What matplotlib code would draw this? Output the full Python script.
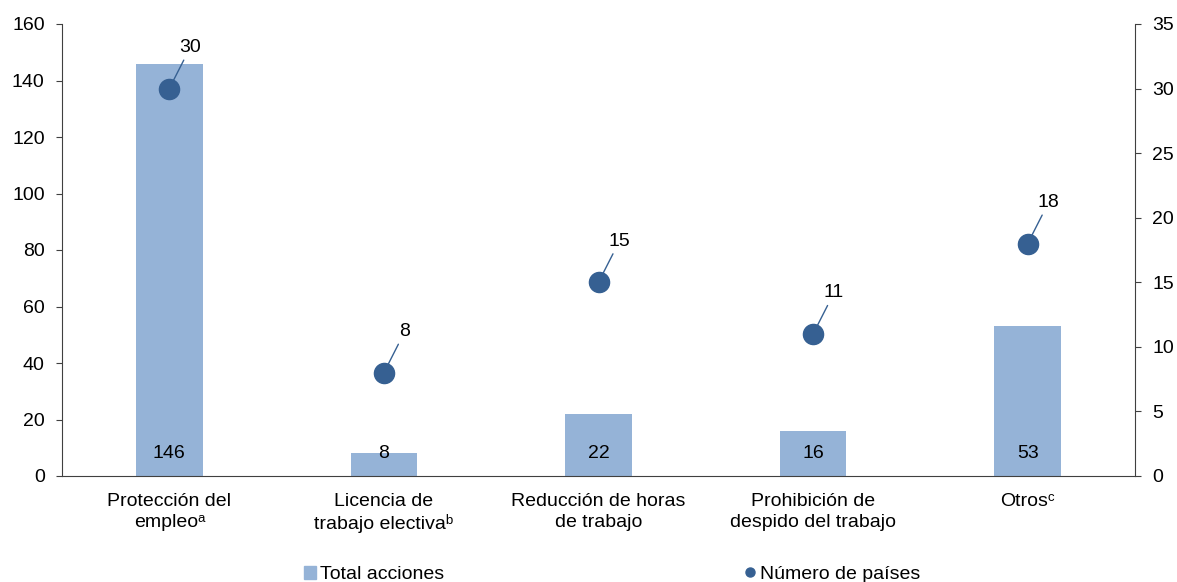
import numpy as np
import matplotlib.pyplot as plt
from matplotlib.lines import Line2D
from matplotlib.patches import Patch

plt.rcParams['font.family'] = ['Liberation Sans', 'DejaVu Sans']

categorias = ['Protección del\nempleoᵃ',
              'Licencia de\ntrabajo electivaᵇ',
              'Reducción de horas\nde trabajo',
              'Prohibición de\ndespido del trabajo',
              'Otrosᶜ']
total_acciones = [146, 8, 22, 16, 53]
num_paises = [30, 8, 15, 11, 18]

bar_color = '#95b3d7'
dot_color = '#366092'
spine_color = '#404040'
fs = 14

fig = plt.figure(figsize=(11.77, 5.82), dpi=100)
ax = fig.add_axes([62 / 1177, 1 - 476 / 582, (1135 - 62) / 1177, (476 - 24) / 582])
ax2 = ax.twinx()

x = np.arange(len(categorias))
ax.bar(x, total_acciones, width=0.31, color=bar_color, zorder=2)
for xi, v in zip(x, total_acciones):
    ax.annotate(str(v), xy=(xi, 0), xytext=(0, 16.5), textcoords='offset points',
                ha='center', va='center', fontsize=fs, color='black')

ax2.plot(x, num_paises, 'o', color=dot_color, markersize=14.5, zorder=4)
for xi, v in zip(x, num_paises):
    ax2.annotate(str(v), xy=(xi, v), xytext=(15, 29.5), textcoords='offset points',
                 ha='center', va='center', fontsize=fs, zorder=3,
                 arrowprops=dict(arrowstyle='-', color=dot_color, lw=1.0,
                                 shrinkA=1, shrinkB=0))

ax.set_xlim(-0.5, 4.5)
ax.set_ylim(0, 160)
ax.set_yticks(range(0, 161, 20))
ax2.set_ylim(0, 35)
ax2.set_yticks(range(0, 36, 5))

ax.set_xticks(x)
ax.set_xticklabels(categorias, fontsize=fs, linespacing=1.3)
ax.tick_params(axis='x', length=0, pad=12)
ax.tick_params(axis='y', labelsize=fs, length=4.5, pad=8, color=spine_color, direction='out')
ax2.tick_params(axis='y', labelsize=fs, length=4.5, pad=8, color=spine_color, direction='out')

for a in (ax, ax2):
    a.spines['top'].set_visible(False)
    for s in ('left', 'right', 'bottom'):
        a.spines[s].set_color(spine_color)
ax2.spines['left'].set_visible(False)
ax2.spines['bottom'].set_visible(False)
ax.spines['right'].set_visible(False)

handles = [Patch(color=bar_color, label='Total acciones'),
           Line2D([], [], marker='o', linestyle='none', color=dot_color,
                  markersize=6.5, label='Número de países')]
fig.legend(handles=handles, loc='lower center', ncol=2, frameon=False,
           fontsize=fs, bbox_to_anchor=(0.52, -0.032), columnspacing=15.4,
           handlelength=0.65, handleheight=0.65, handletextpad=0.2)

fig.savefig('out.png', dpi=100)
